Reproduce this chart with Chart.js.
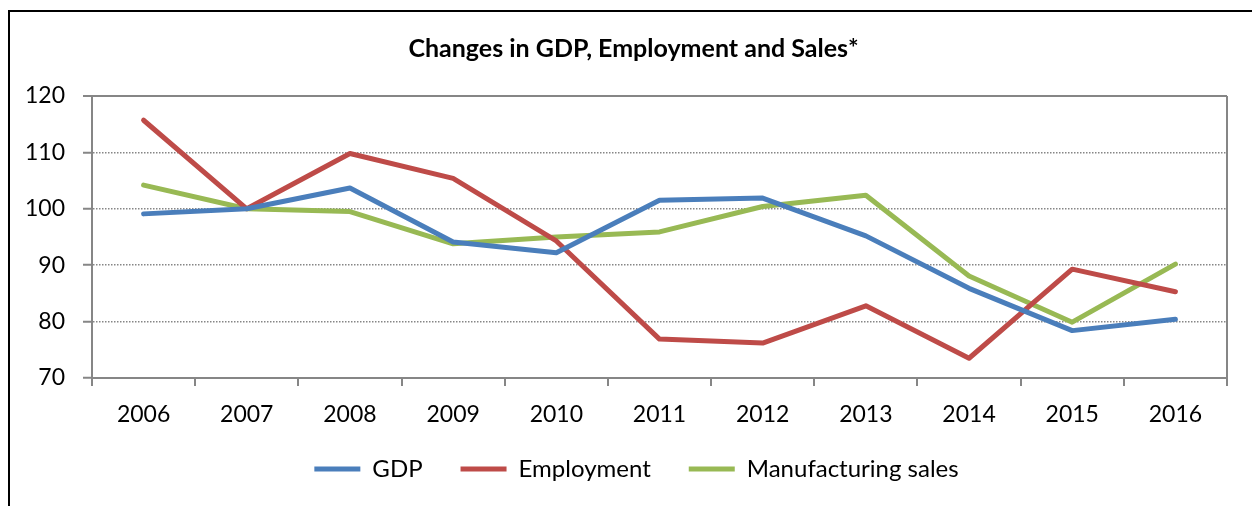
<!DOCTYPE html>
<html><head><meta charset="utf-8">
<script src="https://cdn.jsdelivr.net/npm/chart.js@4"></script>
<style>
html,body{margin:0;padding:0;background:#fff;overflow:hidden;width:1252px;height:506px;}
#frame{position:absolute;left:8px;top:10px;width:1300px;height:600px;border-left:2px solid #000;border-top:2px solid #000;}
#wrap{position:absolute;left:0;top:0;width:1252px;height:506px;}
</style></head><body>
<div id="frame"></div>
<div id="wrap"><canvas id="c" width="1252" height="506"></canvas></div>
<script>
const categories = ['2006','2007','2008','2009','2010','2011','2012','2013','2014','2015','2016'];
const gdp = [99.1, 100, 103.7, 94.1, 92.2, 101.5, 101.9, 95.2, 85.9, 78.4, 80.4];
const employment = [115.7, 100, 109.8, 105.4, 94.3, 76.9, 76.2, 82.8, 73.5, 89.3, 85.3];
const manufacturing = [104.2, 100, 99.5, 93.8, 95.0, 95.9, 100.4, 102.4, 88.1, 79.9, 90.2];
const yTicks = [70, 80, 90, 100, 110, 120];

const GRID = '#868686';
const FONT = 'Lato';

const plotBorder = {
  id: 'plotBorder',
  afterLayout(chart) {
    // centre title and legend on the same band as the reference
    if (chart.legend) {
      chart.legend.left = 46;
      chart.legend.top = 419;
      chart.legend.bottom = 419 + chart.legend.height;
    }
    if (chart.titleBlock) chart.titleBlock.left = 40;
  },
  beforeDatasetsDraw(chart) {
    const {ctx, chartArea: a} = chart;
    ctx.save();
    ctx.strokeStyle = GRID;
    ctx.lineWidth = 2;
    ctx.beginPath();
    ctx.moveTo(a.right, a.top);
    ctx.lineTo(a.right, a.bottom);
    ctx.stroke();
    ctx.restore();
  }
};

function ds(label, data, color) {
  return {label, data, borderColor: color, backgroundColor: color, borderWidth: 5,
    pointRadius: 0, pointHoverRadius: 0, tension: 0, borderCapStyle: 'round', borderJoinStyle: 'round', fill: false};
}

new Chart(document.getElementById('c'), {
  type: 'line',
  data: {
    labels: categories,
    datasets: [
      ds('GDP', gdp, '#4A7EBB'),
      ds('Employment', employment, '#BE4B48'),
      ds('Manufacturing sales', manufacturing, '#98B954')
    ]
  },
  plugins: [plotBorder],
  options: {
    responsive: false,
    animation: false,
    devicePixelRatio: 1,
    layout: {padding: {left: 0, right: 25, top: 0, bottom: 6}},
    plugins: {
      title: {display: true, text: 'Changes in GDP, Employment and Sales*', color: '#000',
        font: {family: FONT, size: 25, weight: 'bold'}, padding: {top: 34, bottom: 32}},
      legend: {position: 'bottom',
        labels: {usePointStyle: true, pointStyle: 'line', pointStyleWidth: 46, padding: 38, color: '#000',
          font: {family: FONT, size: 24}}},
      tooltip: {enabled: false}
    },
    scales: {
      x: {
        offset: true,
        grid: {offset: true, drawOnChartArea: false, drawTicks: true, tickLength: 8, color: GRID, lineWidth: 2, tickWidth: 2, tickColor: GRID},
        border: {color: GRID, width: 2},
        ticks: {color: '#000', font: {family: FONT, size: 23}, padding: 15, maxRotation: 0, autoSkip: false},
        afterFit: s => { s.height = 50; }
      },
      y: {
        min: 70, max: 120,
        afterBuildTicks: s => { s.ticks = yTicks.map(v => ({value: v})); },
        grid: {
          color: c => (c.tick && c.tick.value === 70) ? 'rgba(0,0,0,0)' : GRID,
          lineWidth: c => (c.tick && c.tick.value === 120) ? 2 : 1.5,
          tickLength: 9, tickWidth: 2, tickColor: GRID, tickBorderDash: []
        },
        border: {color: GRID, width: 2, dash: c => (c.tick && c.tick.value === 120) ? [] : [1.5, 1.5]},
        ticks: {color: '#000', font: {family: FONT, size: 23}, padding: 18},
        afterFit: s => { s.width = 92; }
      }
    }
  }
});
</script>
</body></html>
